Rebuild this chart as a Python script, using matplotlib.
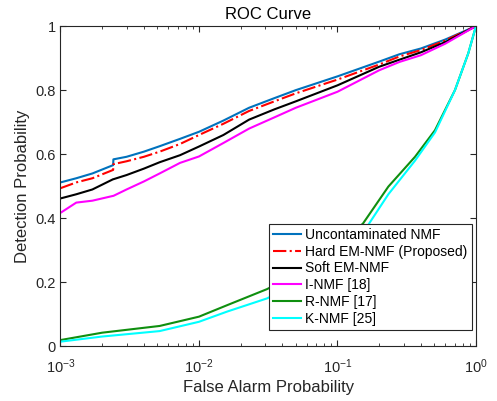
import matplotlib
matplotlib.use('Agg')
import matplotlib.pyplot as plt
from matplotlib.ticker import LogLocator, NullFormatter, FixedLocator

plt.rcParams['font.family'] = ['Liberation Sans', 'DejaVu Sans']

# upper curves (shared false alarm grid)
pfa = [1e-3, 1.3e-3, 1.7e-3, 2.4e-3, 2.41e-3, 3e-3, 4e-3, 5.2e-3, 7.3e-3, 1e-2,
       1.5e-2, 2.3e-2, 3.5e-2, 5e-2, 0.1, 0.2, 0.28, 0.4, 0.6, 1.0]
pd_unc = [0.512, 0.525, 0.54, 0.566, 0.584, 0.592, 0.608, 0.625, 0.648, 0.67,
          0.705, 0.745, 0.775, 0.80, 0.843, 0.889, 0.912, 0.930, 0.958, 1.0]
pd_hard = [0.494, 0.512, 0.525, 0.551, 0.569, 0.578, 0.592, 0.608, 0.632, 0.66,
           0.695, 0.735, 0.765, 0.79, 0.833, 0.880, 0.905, 0.925, 0.955, 1.0]
pd_soft = [0.462, 0.475, 0.49, 0.522, 0.522, 0.535, 0.555, 0.575, 0.597, 0.624,
           0.66, 0.708, 0.74, 0.765, 0.815, 0.873, 0.895, 0.918, 0.95, 1.0]
pd_inmf = [0.417, 0.449, 0.455, 0.47, 0.47, 0.49, 0.515, 0.54, 0.573, 0.593,
           0.635, 0.68, 0.715, 0.745, 0.795, 0.862, 0.888, 0.909, 0.945, 1.0]

# lower curves
pfa2 = [1e-3, 2e-3, 5.2e-3, 1e-2, 1.6e-2, 3.1e-2, 5e-2, 0.1, 0.153, 0.233,
        0.363, 0.506, 0.705, 0.88, 1.0]
pd_rnmf = [0.020, 0.043, 0.064, 0.093, 0.129, 0.179, 0.225, 0.31, 0.384, 0.499,
           0.592, 0.675, 0.80, 0.915, 1.0]
pd_knmf = [0.015, 0.031, 0.048, 0.077, 0.109, 0.150, 0.195, 0.275, 0.355, 0.475,
           0.580, 0.668, 0.80, 0.915, 1.0]

fig = plt.figure(figsize=(4.97, 4.01), dpi=100)
ax = fig.add_axes([0.1217, 0.136, 0.836, 0.799])

lw = 1.5
ax.plot(pfa, pd_unc, color='#0072BD', lw=lw, label='Uncontaminated NMF')
ax.plot(pfa, pd_hard, color='red', lw=lw, ls='-.', label='Hard EM-NMF (Proposed)')
ax.plot(pfa, pd_soft, color='black', lw=lw, label='Soft EM-NMF')
ax.plot(pfa, pd_inmf, color='magenta', lw=lw, label='I-NMF [18]')
ax.plot(pfa2, pd_rnmf, color='#0f8f0f', lw=lw, label='R-NMF [17]')
ax.plot(pfa2, pd_knmf, color='cyan', lw=lw, label='K-NMF [25]')

ax.set_xscale('log')
ax.set_xlim(1e-3, 1)
ax.set_ylim(0, 1)
ax.set_yticks([0, 0.2, 0.4, 0.6, 0.8, 1])
ax.set_yticklabels(['0', '0.2', '0.4', '0.6', '0.8', '1'])
ax.xaxis.set_major_locator(FixedLocator([1e-3, 1e-2, 1e-1, 1]))
ax.xaxis.set_minor_locator(LogLocator(base=10, subs=range(2, 10)))
ax.xaxis.set_minor_formatter(NullFormatter())

gc = '#262626'
ax.tick_params(which='both', direction='in', top=True, right=True, colors=gc, labelsize=10.5)
ax.tick_params(which='major', length=4)
ax.tick_params(which='minor', length=2.5)
ax.tick_params(axis='x', which='major', pad=8)
for s in ax.spines.values():
    s.set_color(gc)
    s.set_linewidth(0.8)

ax.set_title('ROC Curve', fontsize=12, color='black', pad=5)
ax.set_xlabel('False Alarm Probability', fontsize=12, color=gc, labelpad=3)
ax.set_ylabel('Detection Probability', fontsize=12, color=gc)

leg = ax.legend(loc='lower right', bbox_to_anchor=(0.99, 0.0515), borderaxespad=0,
                fontsize=10, frameon=True, fancybox=False,
                edgecolor=gc, framealpha=1, handlelength=2.0, handletextpad=0.3,
                labelspacing=0.2, borderpad=0.3)
leg.get_frame().set_linewidth(0.8)

plt.savefig('out.png', dpi=100)
